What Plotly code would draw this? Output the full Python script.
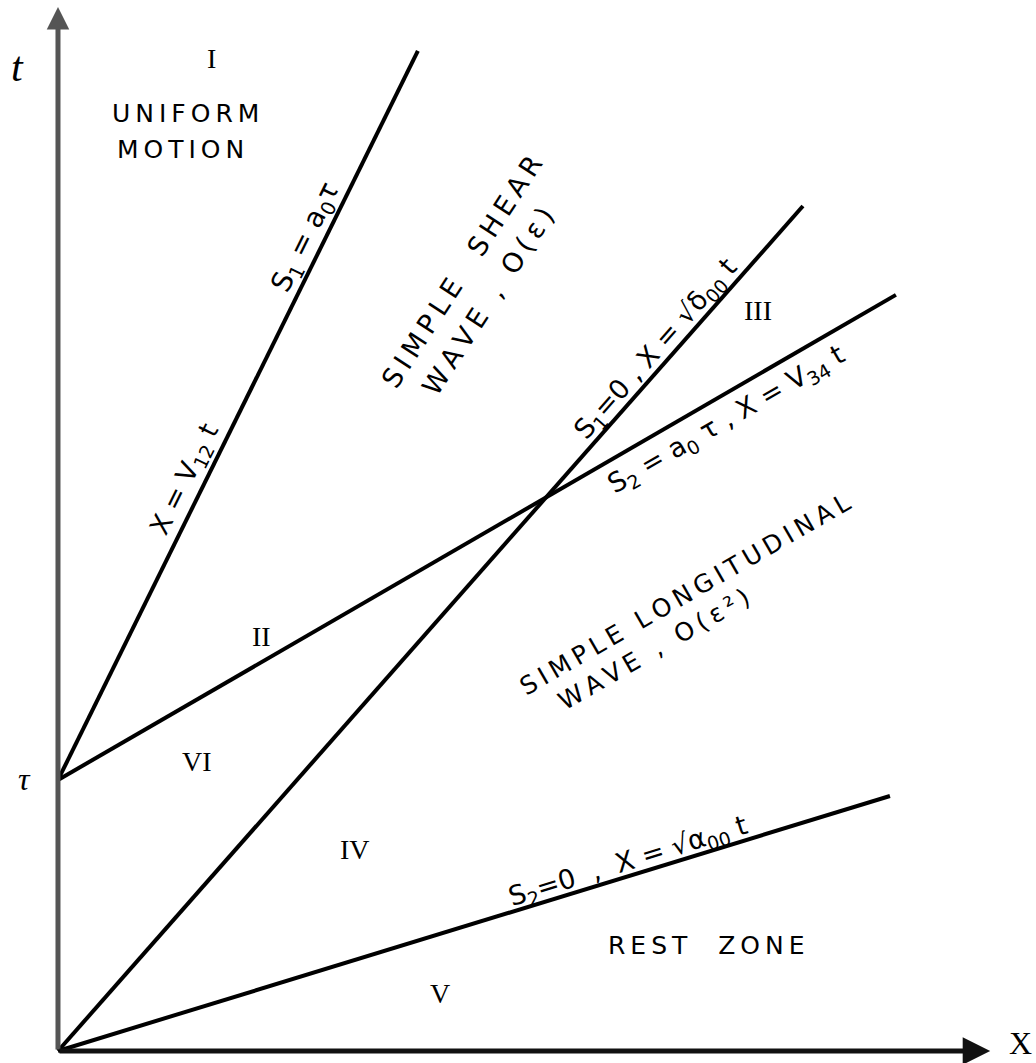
import plotly.graph_objects as go

# ---- data: characteristic lines in the (X, t) plane (time unit = tau) ----
line_names = ["X = V12 t", "X = V34 t", "X = sqrt(delta00) t", "X = sqrt(alpha00) t"]
x_start = [0.0, 0.0, 0.0, 0.0]
t_start = [1.0, 1.0, 0.0, 0.0]
x_end = [1.328, 3.092, 2.749, 3.070]
t_end = [3.690, 2.790, 3.118, 0.941]

# axis extents (data units)
x_axis_end = 3.44
t_axis_end = 3.852

# ---- line labels ----
label_text = [
    "S<sub>1</sub> = a<sub>0</sub>τ",
    "X = V<sub>12</sub> t",
    "S<sub>1</sub>=0 , X = √δ<sub>00</sub> t",
    "S<sub>2</sub> = a<sub>0</sub> τ , X = V<sub>34</sub> t",
    "S<sub>2</sub>=0  ,  X = √α<sub>00</sub> t",
]
label_x = [0.919, 0.472, 2.210, 2.469, 2.103]
label_y = [3.000, 2.107, 2.587, 2.325, 0.697]
label_angle = [-63.7, -63.7, -48.6, -30.0, -17.2]
label_size = [28, 27, 27, 27, 27]

# ---- region captions ----
caption_text = ["UNIFORM", "MOTION", "SIMPLE  SHEAR", "WAVE , O(ε)",
                "SIMPLE LONGITUDINAL", "WAVE , O(ε²)", "REST  ZONE"]
caption_x = [0.192, 0.210, 1.491, 1.587, 2.314, 2.199, 2.391]
caption_y = [3.461, 3.325, 2.875, 2.764, 1.683, 1.481, 0.391]
caption_angle = [0, 0, -57, -57, -30, -30, 0]
caption_anchor = ["left", "left", "center", "center", "center", "center", "center"]
caption_size = [25, 25, 27, 27, 25, 25, 25]

# ---- region numerals ----
roman_text = ["I", "II", "III", "IV", "V", "VI"]
roman_x = [0.568, 0.75, 2.583, 1.096, 1.410, 0.513]
roman_y = [3.661, 1.531, 2.734, 0.742, 0.214, 1.070]


def spaced(s):
    return "\u2009".join(s)


fig = go.Figure()
for i in range(len(x_start)):
    fig.add_trace(go.Scatter(
        x=[x_start[i], x_end[i]], y=[t_start[i], t_end[i]],
        mode="lines", line=dict(color="black", width=4),
        name=line_names[i], showlegend=False, hoverinfo="skip"))

ann = []
# axes with arrows
ann.append(dict(x=0, y=t_axis_end, ax=0, ay=0, xref="x", yref="y", axref="x", ayref="y",
                showarrow=True, arrowhead=2, arrowsize=0.9, arrowwidth=5, arrowcolor="#555555", text=""))
ann.append(dict(x=x_axis_end, y=0, ax=0, ay=0, xref="x", yref="y", axref="x", ayref="y",
                showarrow=True, arrowhead=2, arrowsize=1.1, arrowwidth=5, arrowcolor="#111111", text=""))

serif = "Liberation Serif"
hand = "DejaVu Sans"
ann.append(dict(x=-0.151, y=3.631, text="<i>t</i>", showarrow=False,
                font=dict(family=serif, size=42, color="black")))
ann.append(dict(x=-0.122, y=1.004, text="<i>τ</i>", showarrow=False,
                font=dict(family=serif, size=32, color="black")))
ann.append(dict(x=3.55, y=0.03, text="X", showarrow=False, yanchor="middle",
                font=dict(family=serif, size=32, color="black")))

for s, x, y, a, sz in zip(label_text, label_x, label_y, label_angle, label_size):
    ann.append(dict(x=x, y=y, text=s, textangle=a, showarrow=False,
                    font=dict(family=hand, size=sz, color="black")))

for s, x, y, a, anc, sz in zip(caption_text, caption_x, caption_y, caption_angle,
                               caption_anchor, caption_size):
    ann.append(dict(x=x, y=y, text=spaced(s), textangle=a, showarrow=False, xanchor=anc,
                    font=dict(family=hand, size=sz, color="black")))

for s, x, y in zip(roman_text, roman_x, roman_y):
    ann.append(dict(x=x, y=y, text=s, showarrow=False,
                    font=dict(family=serif, size=28, color="black")))

fig.update_layout(
    width=1036, height=1063, autosize=False,
    margin=dict(l=0, r=0, t=0, b=0),
    paper_bgcolor="white", plot_bgcolor="white",
    xaxis=dict(range=[-0.214, 3.609], visible=False, fixedrange=True),
    yaxis=dict(range=[-0.0443, 3.878], visible=False, fixedrange=True),
    annotations=ann,
    showlegend=False,
)
fig.write_html("out.html",
               config={"displayModeBar": False, "staticPlot": True},
               post_script="document.body.style.margin='0';document.body.style.overflow='hidden';")
